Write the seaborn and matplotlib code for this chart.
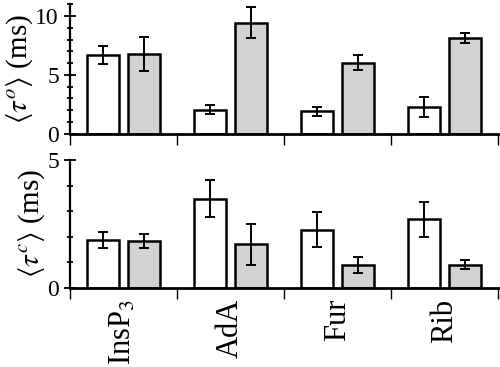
import numpy as np
import pandas as pd
import matplotlib
matplotlib.use("Agg")
import matplotlib.pyplot as plt
import seaborn as sns

# data
categories = ["InsP$_3$", "AdA", "Fur", "Rib"]
conditions = ["white", "gray"]

tau_o_white = [6.7, 2.05, 1.9, 2.25]
tau_o_white_err = [0.75, 0.4, 0.4, 0.85]
tau_o_gray = [6.8, 9.45, 6.05, 8.15]
tau_o_gray_err = [1.45, 1.3, 0.65, 0.45]

tau_c_white = [1.87, 3.48, 2.27, 2.68]
tau_c_white_err = [0.33, 0.73, 0.68, 0.68]
tau_c_gray = [1.83, 1.7, 0.89, 0.9]
tau_c_gray_err = [0.26, 0.8, 0.3, 0.18]

sns.set_style("ticks", {"axes.edgecolor": "black", "text.color": "black",
                        "axes.labelcolor": "black", "xtick.color": "black",
                        "ytick.color": "black"})
plt.rcParams["font.family"] = ["Liberation Serif", "DejaVu Serif"]
plt.rcParams["mathtext.fontset"] = "stix"

fig = plt.figure(figsize=(5.0, 3.67), dpi=100)
ax1 = fig.add_axes([0.14, 0.636, 0.856, 0.352])
ax2 = fig.add_axes([0.14, 0.216, 0.856, 0.348])

W = 0.78
palette = {"white": "white", "gray": "#d2d2d2"}


def panel(ax, white, white_err, gray, gray_err, ymax, ylabel):
    df = pd.DataFrame({
        "cat": categories * 2,
        "cond": ["white"] * 4 + ["gray"] * 4,
        "val": white + gray,
    })
    sns.barplot(data=df, x="cat", y="val", hue="cond", order=categories,
                hue_order=conditions, palette=palette, width=W, gap=0.23,
                errorbar=None, edgecolor="black", linewidth=1.8,
                legend=False, ax=ax)
    x = np.arange(len(categories))
    for j, (v, e) in enumerate([(white, white_err), (gray, gray_err)]):
        ax.errorbar(x + (j - 0.5) * W / 2, v, yerr=e, fmt="none",
                    ecolor="black", elinewidth=1.4, capsize=3.5,
                    capthick=1.4)
    ax.set_xlim(-0.5, 3.5)
    ax.set_ylim(0, ymax)
    ax.set_yticks([t for t in (0, 5, 10) if t <= ymax])
    ax.set_yticks(np.arange(0, ymax + 0.01, 1), minor=True)
    ax.tick_params(axis="y", which="major", direction="inout", length=8,
                   width=1.3, labelsize=17, pad=4, colors="black")
    ax.tick_params(axis="y", which="minor", direction="inout", length=4,
                   width=1.3, colors="black")
    ax.set_xticks(np.arange(-0.5, 3.6, 1))
    ax.set_xticklabels([])
    ax.tick_params(axis="x", which="major", direction="out", length=8,
                   width=1.0, colors="black")
    sns.despine(ax=ax)
    ax.spines["left"].set_linewidth(1.6)
    ax.spines["bottom"].set_linewidth(2.0)
    ax.set_xlabel("")
    ax.set_ylabel(ylabel, fontsize=21, labelpad=0, color="black")


panel(ax1, tau_o_white, tau_o_white_err, tau_o_gray, tau_o_gray_err,
      11, r"$\langle\tau^{o}\rangle$ (ms)")
panel(ax2, tau_c_white, tau_c_white_err, tau_c_gray, tau_c_gray_err,
      5, r"$\langle\tau^{c}\rangle$ (ms)")

ax2.set_xticks(np.arange(len(categories)), minor=True)
ax2.set_xticklabels(categories, minor=True, rotation=90, fontsize=22,
                    color="black")
ax2.tick_params(axis="x", which="minor", length=0, pad=8)

fig.savefig("out.png", dpi=100)
